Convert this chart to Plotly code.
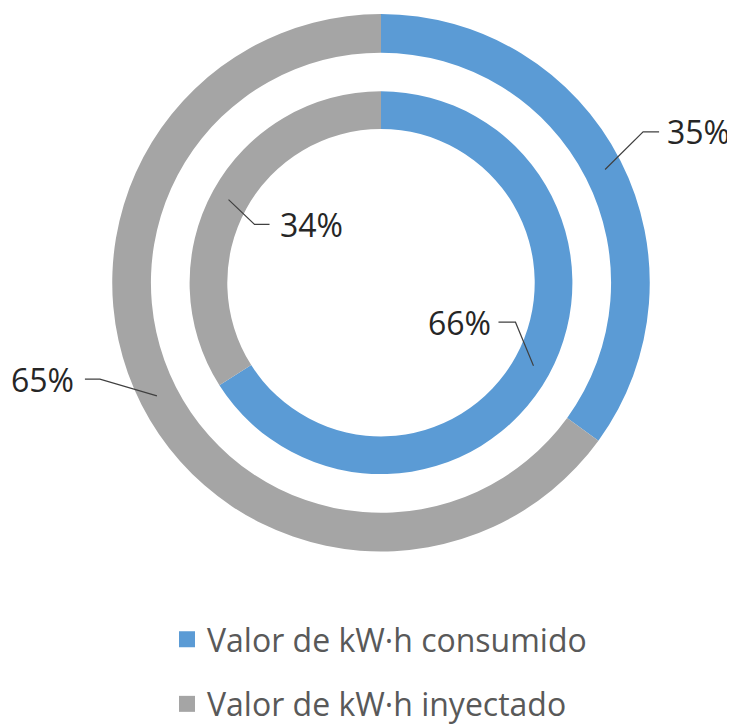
import math
import plotly.graph_objects as go

# ---- data ----
categories = ["Valor de kW·h consumido", "Valor de kW·h inyectado"]
outer_values = [35, 65]
inner_values = [66, 34]
colors = ["#5B9BD5", "#A5A5A5"]

# ---- geometry (screen pixels; the page body has an 8px margin) ----
W, H = 735, 724
OFF = 8
CX, CY = 381, 285
R_OUT = (232, 271)
R_IN = (155, 193)


def px(x):
    return (x - OFF) / W


def py(y):
    return 1 - (y - OFF) / H


def dom(r):
    return dict(x=[px(CX - r), px(CX + r)], y=[py(CY + r), py(CY - r)])


fig = go.Figure()
for vals, (r0, r1) in ((outer_values, R_OUT), (inner_values, R_IN)):
    fig.add_trace(go.Pie(
        labels=categories, values=vals, hole=r0 / r1, domain=dom(r1),
        sort=False, direction="clockwise", rotation=0,
        marker=dict(colors=colors, line=dict(width=0)),
        textinfo="none", hoverinfo="label+percent", showlegend=False,
    ))

# legend entries
for i, c in enumerate(categories):
    fig.add_trace(go.Scatter(
        x=[None], y=[None], mode="markers", name=c, legendgroup=c,
        marker=dict(symbol="square", size=21, color=colors[i]),
    ))

# label leader offsets: (elbow dx, elbow dy, horizontal length, text gap)
leaders = {
    (0, 0): (38, -38, 16, 9),
    (0, 1): (-57, -17, -15, 12),
    (1, 0): (-18, -44, -17, 8),
    (1, 1): (26, 25, 15, 11),
}
shapes, annos = [], []
for ring, (vals, (r0, r1)) in enumerate(((outer_values, R_OUT), (inner_values, R_IN))):
    tot = sum(vals)
    cum = 0
    rm = (r0 + r1) / 2
    for j, v in enumerate(vals):
        frac = (cum + v / 2) / tot
        cum += v
        a = 2 * math.pi * frac
        x0 = CX + rm * math.sin(a)
        y0 = CY - rm * math.cos(a)
        dx, dy, hl, gap = leaders[(ring, j)]
        x1, y1 = x0 + dx, y0 + dy
        x2 = x1 + hl
        shapes.append(dict(
            type="path", xref="paper", yref="paper",
            path=f"M {px(x0)},{py(y0)} L {px(x1)},{py(y1)} L {px(x2)},{py(y1)}",
            line=dict(color="#404040", width=1.2),
        ))
        annos.append(dict(
            x=px(x2), y=py(y1), xref="paper", yref="paper",
            text=f"{round(100 * v / tot)}%", showarrow=False,
            xanchor="left" if hl > 0 else "right", yanchor="middle",
            xshift=(gap - 3) if hl > 0 else -(gap - 3), yshift=0,
            font=dict(size=32, color="#262626"),
        ))

fig.update_layout(
    width=W, height=H,
    margin=dict(l=0, r=0, t=0, b=0),
    paper_bgcolor="white", plot_bgcolor="white",
    font=dict(family="Open Sans, sans-serif"),
    shapes=shapes, annotations=annos,
    xaxis=dict(visible=False), yaxis=dict(visible=False),
    legend=dict(
        x=159 / W, xanchor="left", y=1 - 609 / H, yanchor="top",
        font=dict(size=32, color="#595959"),
        tracegroupgap=20, bgcolor="rgba(0,0,0,0)",
    ),
)

fig.write_html("out.html")
